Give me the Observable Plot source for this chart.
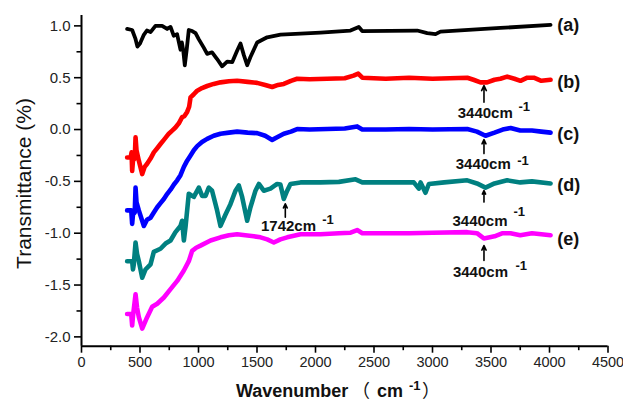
<!DOCTYPE html>
<html>
<head>
<meta charset="utf-8">
<script src="https://cdn.jsdelivr.net/npm/d3@7"></script>
<script src="https://cdn.jsdelivr.net/npm/@observablehq/plot@0.6"></script>
<style>
  html, body { margin: 0; padding: 0; background: #fff; }
</style>
</head>
<body>
<div id="chart"></div>
<script>
// ---- data ----
const xTicks = [0, 500, 1000, 1500, 2000, 2500, 3000, 3500, 4000, 4500];
const xMinor = [250, 750, 1250, 1750, 2250, 2750, 3250, 3750, 4250];
const yTicks = [-2.0, -1.5, -1.0, -0.5, 0.0, 0.5, 1.0];
const yMinor = [-1.75, -1.25, -0.75, -0.25, 0.25, 0.75];

const wA = [390,433,460,478,500,531,559,590,632,689,732,761,788,817,846,858,870,883,900,917,946,975,1003,1045,1074,1116,1159,1202,1245,1288,1330,1359,1387,1416,1444,1501,1587,1701,1872,2043,2299,2370,2399,2869,2955,3026,3068,3581,4009];
const tA = [0.97,0.96,0.88,0.80,0.83,0.91,0.955,0.94,1.0,1.0,0.97,0.99,0.905,0.92,0.77,0.84,0.76,0.62,0.78,0.96,0.95,0.93,0.87,0.79,0.73,0.745,0.68,0.61,0.655,0.65,0.76,0.83,0.72,0.62,0.70,0.84,0.89,0.915,0.925,0.935,0.955,0.99,0.95,0.955,0.93,0.92,0.945,0.98,1.01];

const wB = [390,420,428,433,440,455,462,470,490,519,540,561,590,618,647,675,704,746,775,803,832,860,880,903,920,932,960,989,1030,1074,1130,1188,1260,1330,1420,1501,1570,1630,1680,1729,1790,1843,1950,2100,2250,2325,2365,2400,2600,2800,3000,3297,3350,3410,3467,3530,3580,3638,3700,3752,3810,3866,3930,4009];
const tB = [-0.27,-0.27,-0.22,-0.40,-0.30,-0.28,-0.075,-0.20,-0.30,-0.43,-0.36,-0.33,-0.28,-0.22,-0.18,-0.14,-0.10,-0.04,-0.01,0.02,0.06,0.12,0.13,0.17,0.22,0.31,0.34,0.375,0.40,0.42,0.44,0.455,0.465,0.47,0.46,0.45,0.43,0.41,0.43,0.44,0.47,0.49,0.485,0.49,0.495,0.52,0.54,0.50,0.49,0.50,0.49,0.50,0.48,0.455,0.455,0.48,0.49,0.51,0.49,0.47,0.50,0.50,0.47,0.48];

const wC = [390,425,433,440,455,462,470,490,533,560,590,618,647,675,704,733,761,790,818,846,875,903,932,960,989,1030,1074,1130,1188,1260,1330,1420,1501,1570,1630,1680,1729,1790,1843,1950,2100,2250,2356,2400,2600,2800,3000,3297,3380,3453,3530,3600,3667,3750,3850,3930,4009];
const tC = [-0.78,-0.78,-0.91,-0.82,-0.80,-0.56,-0.70,-0.78,-0.93,-0.87,-0.85,-0.80,-0.75,-0.71,-0.67,-0.62,-0.58,-0.53,-0.49,-0.44,-0.36,-0.30,-0.25,-0.20,-0.16,-0.12,-0.09,-0.06,-0.04,-0.03,-0.02,-0.03,-0.035,-0.06,-0.10,-0.07,-0.04,-0.02,0.005,0.0,0.005,0.01,0.03,0.0,0.0,0.005,0.0,0.005,-0.02,-0.06,-0.03,0.0,0.015,-0.01,-0.01,-0.02,-0.03];

const wD = [390,433,440,447,462,475,490,519,547,590,618,675,718,761,803,846,860,875,889,917,960,1003,1031,1060,1088,1116,1159,1188,1231,1273,1316,1345,1373,1416,1444,1487,1516,1558,1615,1672,1700,1729,1758,1786,1872,2043,2200,2342,2400,2600,2840,2883,2898,2940,2969,3100,3297,3380,3453,3530,3638,3750,3850,4009];
const tD = [-1.27,-1.27,-1.35,-1.30,-1.09,-1.20,-1.27,-1.43,-1.35,-1.30,-1.18,-1.15,-1.10,-1.07,-0.99,-0.93,-0.88,-1.07,-0.94,-0.62,-0.65,-0.56,-0.64,-0.64,-0.56,-0.59,-0.78,-0.93,-0.82,-0.72,-0.59,-0.54,-0.65,-0.88,-0.75,-0.59,-0.525,-0.59,-0.57,-0.525,-0.53,-0.67,-0.59,-0.525,-0.51,-0.51,-0.505,-0.48,-0.51,-0.51,-0.51,-0.57,-0.51,-0.61,-0.525,-0.51,-0.49,-0.52,-0.56,-0.52,-0.49,-0.51,-0.50,-0.52];

const wE = [390,425,433,440,462,475,490,519,561,604,647,704,761,818,875,917,946,980,1017,1103,1188,1260,1330,1400,1473,1530,1587,1644,1700,1758,1872,2043,2200,2300,2356,2400,2600,2800,3000,3297,3380,3439,3530,3600,3667,3750,3850,3930,4009];
const tE = [-1.78,-1.78,-1.89,-1.80,-1.59,-1.72,-1.81,-1.92,-1.81,-1.71,-1.68,-1.62,-1.54,-1.46,-1.36,-1.27,-1.17,-1.14,-1.12,-1.07,-1.04,-1.02,-1.01,-1.02,-1.03,-1.04,-1.06,-1.09,-1.06,-1.04,-1.01,-1.01,-1.0,-0.995,-0.97,-1.0,-1.0,-1.0,-0.995,-0.99,-1.0,-1.05,-1.03,-1.0,-1.0,-1.02,-1.0,-1.01,-1.02];

const seriesLabels = ["(a)", "(b)", "(c)", "(d)", "(e)"];
const seriesLabelX = [4066, 4066, 4066, 4066, 4066];
const seriesLabelY = [1.003, 0.456, -0.042, -0.54, -1.055];

const arrowX = [3440, 3440, 3440, 3440, 1742];
const arrowY1 = [0.263, -0.232, -0.70, -1.264, -0.846];
const arrowY2 = [0.424, -0.097, -0.589, -1.119, -0.717];
const noteText = ["3440cm", "3440cm", "3440cm", "3440cm", "1742cm"];
const noteX = [3451, 3434, 3406, 3410, 1769];
const noteY = [0.154, -0.338, -0.883, -1.375, -0.936];
const supText = ["-1", "-1", "-1", "-1", "-1"];
const supX = [3735, 3724, 3692, 3709, 2057];
const supY = [0.215, -0.30, -0.798, -1.312, -0.868];

// ---- build tables ----
const zip = (w, t) => w.map((x, i) => ({x, y: t[i]}));
const series = [
  {data: zip(wA, tA), color: "#000000", sw: 3.8},
  {data: zip(wB, tB), color: "#ff0000", sw: 4.6},
  {data: zip(wC, tC), color: "#0000ff", sw: 4.6},
  {data: zip(wD, tD), color: "#008080", sw: 4.6},
  {data: zip(wE, tE), color: "#ff00ff", sw: 4.6}
];
const labels = seriesLabels.map((s, i) => ({s, x: seriesLabelX[i], y: seriesLabelY[i]}));
const arrows = arrowX.map((x, i) => ({x, y1: arrowY1[i], y2: arrowY2[i]}));
const notes = noteText.map((s, i) => ({s, x: noteX[i], y: noteY[i]}));
const sups = supText.map((s, i) => ({s, x: supX[i], y: supY[i]}));

const fmt = d => d.toFixed(1);

const chart = Plot.plot({
  width: 623,
  height: 401,
  marginLeft: 81,
  marginRight: 15.5,
  marginTop: 15,
  marginBottom: 55.3,
  style: {fontFamily: "'Liberation Sans', Arial, sans-serif", background: "#fff", color: "#000", overflow: "visible"},
  x: {domain: [0, 4500]},
  y: {domain: [-2.09, 1.1]},
  marks: [
    Plot.axisX({ticks: xTicks, tickSize: 7, tickPadding: 4, strokeWidth: 1.6, fontSize: 14.5, fill: "#222", stroke: "#000", tickFormat: d => String(d), label: null}),
    Plot.axisX({ticks: xMinor, tickSize: 4.5, strokeWidth: 1.6, stroke: "#000", tickFormat: () => "", label: null}),
    Plot.axisY({ticks: yTicks, tickSize: 7, tickPadding: 4, strokeWidth: 1.6, fontSize: 15, fill: "#222", stroke: "#000", tickFormat: fmt, label: null}),
    Plot.axisY({ticks: yMinor, tickSize: 4.5, strokeWidth: 1.6, stroke: "#000", tickFormat: () => "", label: null}),
    Plot.ruleX([0], {stroke: "#000", strokeWidth: 2}),
    Plot.ruleY([-2.09], {stroke: "#000", strokeWidth: 2}),
    ...series.map(s => Plot.line(s.data, {x: "x", y: "y", stroke: s.color, strokeWidth: s.sw, strokeLinejoin: "round", strokeLinecap: "round"})),
    Plot.arrow(arrows, {x: "x", y1: "y1", y2: "y2", x1: "x", x2: "x", stroke: "#000", strokeWidth: 1.6, headLength: 6, headAngle: 50}),
    Plot.text(notes, {x: "x", y: "y", text: "s", fontSize: 15, fontWeight: "bold", fill: "#111", textAnchor: "middle"}),
    Plot.text(sups, {x: "x", y: "y", text: "s", fontSize: 13, fontWeight: "bold", fill: "#111", textAnchor: "start"}),
    Plot.text(labels, {x: "x", y: "y", text: "s", fontSize: 18, fontWeight: "bold", fill: "#111", textAnchor: "start"})
  ]
});

document.getElementById("chart").appendChild(chart);

// axis titles
const svg = d3.select(chart);
svg.append("text")
  .attr("transform", "translate(31,183.5) rotate(-90)")
  .attr("text-anchor", "middle")
  .attr("font-family", "'Liberation Sans', Arial, sans-serif")
  .attr("font-size", 21)
  .attr("fill", "#111")
  .text("Transmittance (%)");

const xt = svg.append("text")
  .attr("y", 397)
  .attr("text-anchor", "start")
  .attr("font-family", "'Liberation Sans', 'Noto Sans CJK SC', sans-serif")
  .attr("font-size", 18)
  .attr("font-weight", "bold")
  .attr("fill", "#111");
xt.append("tspan").attr("x", 236).text("Wavenumber");
xt.append("tspan").attr("x", 352).attr("font-family", "'Noto Sans CJK SC', sans-serif").attr("font-weight", "normal").text("（");
xt.append("tspan").attr("x", 377).text("cm");
xt.append("tspan").attr("x", 409).attr("font-size", 13).attr("dy", -7).text("-1");
xt.append("tspan").attr("x", 422).attr("dy", 7).attr("font-family", "'Noto Sans CJK SC', sans-serif").attr("font-weight", "normal").text("）");
</script>
</body>
</html>
